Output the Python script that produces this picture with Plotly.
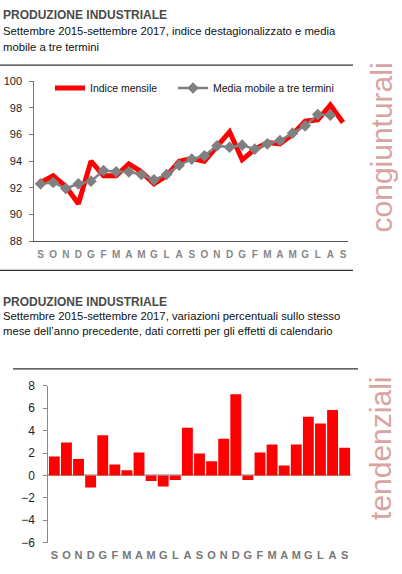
import plotly.graph_objects as go

# months Sept 2015 - Sept 2017
months = ["S", "O", "N", "D", "G", "F", "M", "A", "M", "G", "L", "A",
          "S", "O", "N", "D", "G", "F", "M", "A", "M", "G", "L", "A", "S"]

# monthly seasonally adjusted index
indice_mensile = [92.4, 92.9, 92.1, 90.8, 94.0, 92.9, 92.9, 93.8, 93.2, 92.3, 92.9, 94.0,
                  94.2, 94.0, 95.1, 96.2, 94.1, 94.9, 95.4, 95.3, 96.0, 97.0, 97.1, 98.2, 96.9]

# three-term moving average (last month not available)
media_mobile = [92.3, 92.4, 91.95, 92.3, 92.5, 93.3, 93.2, 93.2, 93.0, 92.6, 93.0, 93.7,
                94.15, 94.4, 95.15, 95.05, 95.2, 94.9, 95.3, 95.55, 96.1, 96.65, 97.5, 97.45, None]

# year-on-year % change, calendar adjusted
var_tendenziali = [1.7, 2.95, 1.47, -1.08, 3.58, 0.97, 0.47, 2.05, -0.5, -1.0, -0.41, 4.25,
                   1.96, 1.26, 3.28, 7.24, -0.41, 2.05, 2.76, 0.88, 2.76, 5.25, 4.63, 5.84, 2.46]

idx = list(range(len(months)))

W, H = 402, 574
SANS = "Liberation Sans, Arial, sans-serif"


def px_x(p):
    return p / W


def px_y(p):
    return 1 - p / H


fig = go.Figure()

fig.add_trace(go.Scatter(
    x=idx, y=indice_mensile, name="Indice mensile", mode="lines",
    line=dict(color="#ff0000", width=5), xaxis="x", yaxis="y", legend="legend",
))
fig.add_trace(go.Scatter(
    x=idx, y=media_mobile, name="Media mobile a tre termini", mode="lines+markers",
    line=dict(color="#808080", width=2.5),
    marker=dict(symbol="diamond", size=9, color="#808080"),
    xaxis="x", yaxis="y", legend="legend2",
))
fig.add_trace(go.Bar(
    x=idx, y=var_tendenziali, marker=dict(color="#ff0000", line=dict(width=0)),
    showlegend=False, xaxis="x2", yaxis="y2",
))

tick_font = dict(family=SANS, size=11, color="#222222")
month_font = dict(family=SANS, size=10, color="#888888", weight="bold")
legend_font = dict(family=SANS, size=10.5, color="#111111")

fig.update_layout(
    width=W, height=H,
    margin=dict(l=0, r=0, t=0, b=0),
    paper_bgcolor="white", plot_bgcolor="white",
    bargap=0.1,
    xaxis=dict(
        domain=[px_x(34.3), px_x(348)], range=[-0.5, 24.4],
        tickmode="array", tickvals=idx, ticktext=months,
        showgrid=False, zeroline=False, showline=True, linecolor="#555555", linewidth=1.2,
        ticks="", tickfont=month_font, ticklabelstandoff=4,
    ),
    yaxis=dict(
        domain=[px_y(240), px_y(76)], range=[88, 100],
        tickvals=[88, 90, 92, 94, 96, 98, 100],
        showgrid=False, zeroline=False, showline=True, linecolor="#777777", linewidth=1,
        ticks="outside", ticklen=4, tickcolor="#777777", tickfont=tick_font,
        ticklabelstandoff=5,
    ),
    xaxis2=dict(
        domain=[px_x(48.3), px_x(350.7)], range=[-0.5, 24.5],
        tickmode="array", tickvals=idx, ticktext=months,
        showgrid=False, zeroline=False, showline=False,
        ticks="", tickfont=dict(family=SANS, size=11, color="#777777", weight="bold"),
        anchor="y2", ticklabelstandoff=4,
    ),
    yaxis2=dict(
        domain=[px_y(549), px_y(388.3)], range=[-6, 8],
        tickvals=[-6, -4, -2, 0, 2, 4, 6, 8],
        showgrid=False, zeroline=True, zerolinecolor="#bbbbbb", zerolinewidth=1.5,
        showline=True, linecolor="#888888", linewidth=1,
        ticks="outside", ticklen=4, tickcolor="#888888",
        tickfont=dict(family=SANS, size=12, color="#222222"),
        anchor="x2", ticklabelstandoff=6,
    ),
    legend=dict(
        orientation="h", x=px_x(50), y=px_y(83), xanchor="left", yanchor="middle",
        font=legend_font, bgcolor="rgba(0,0,0,0)",
    ),
    legend2=dict(
        orientation="h", x=px_x(173), y=px_y(83), xanchor="left", yanchor="middle",
        font=legend_font, bgcolor="rgba(0,0,0,0)",
    ),
)

# titles
titles = [
    (8, "PRODUZIONE INDUSTRIALE", True),
    (25, "Settembre 2015-settembre 2017, indice destagionalizzato e media", False),
    (41, "mobile a tre termini", False),
    (302, "PRODUZIONE INDUSTRIALE", True),
    (317, "Settembre 2015-settembre 2017, variazioni percentuali sullo stesso", False),
    (332, "mese dell\u2019anno precedente, dati corretti per gli effetti di calendario", False),
]
for ypx, txt, bold in titles:
    fig.add_annotation(
        xref="paper", yref="paper", x=px_x(1), y=px_y(ypx),
        xanchor="left", yanchor="middle", showarrow=False, text=txt,
        font=dict(family=SANS, size=12 if bold else 11.3,
                  color="#4a4a4a" if bold else "#111111",
                  weight="bold" if bold else "normal"),
    )

# side labels
for ycen, txt in [(144, "congiunturali"), (453, "tendenziali")]:
    fig.add_annotation(
        xref="paper", yref="paper", x=px_x(381), y=px_y(ycen),
        xanchor="center", yanchor="middle", showarrow=False, text=txt,
        textangle=-90, font=dict(family=SANS, size=30, color="#d8a3a3"),
    )

# separator rules
for y0, x0, x1 in [(59.5, 0, 353), (270, 0, 353), (371, 13, 358)]:
    fig.add_shape(type="line", xref="paper", yref="paper",
                  x0=px_x(x0), x1=px_x(x1), y0=px_y(y0), y1=px_y(y0),
                  line=dict(color="#333333", width=1.3))

fig.write_html("out.html", config={"displayModeBar": False},
               post_script="document.body.style.margin='0';")
